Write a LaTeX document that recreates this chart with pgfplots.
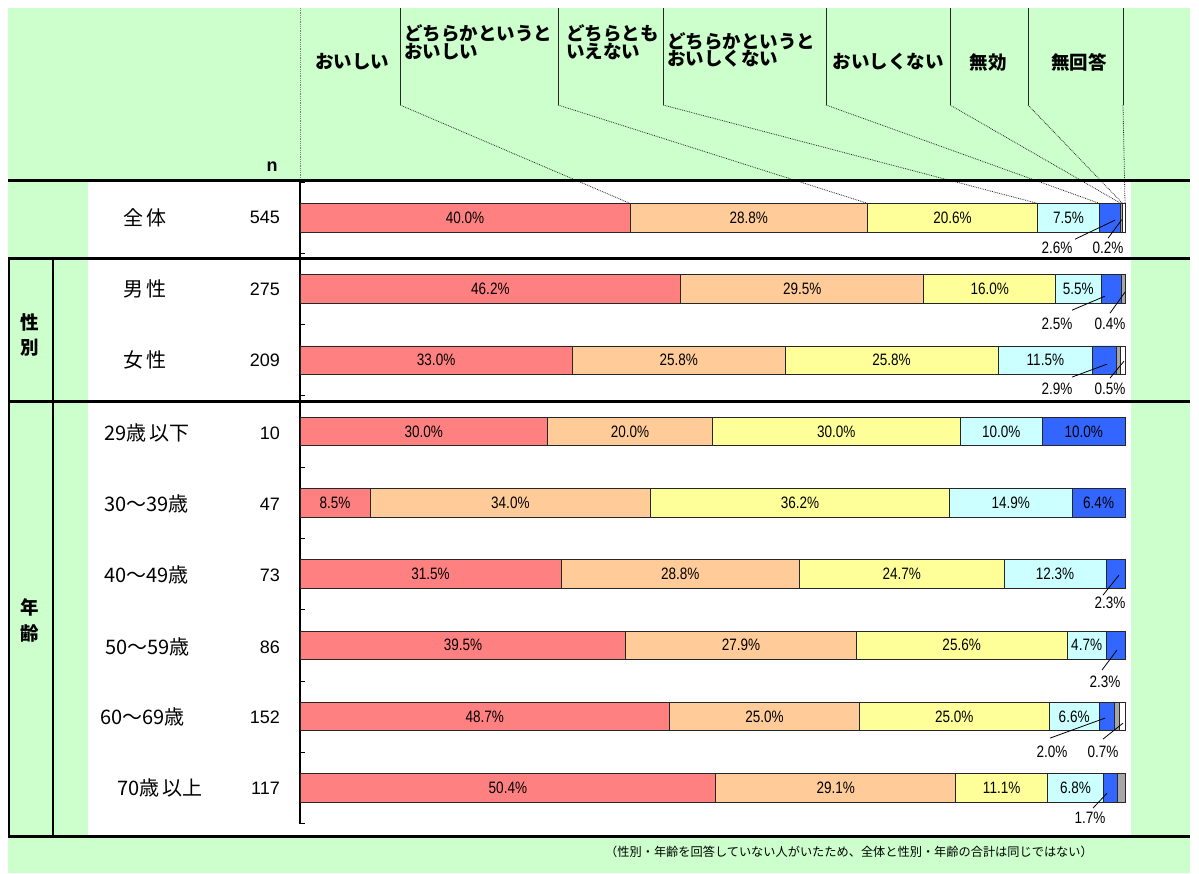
\documentclass[border=0pt]{standalone}
\usepackage{fontspec}
\usepackage{pgfplots}
\pgfplotsset{compat=1.18}
\setmainfont{Liberation Sans}
\newfontfamily\jp{Noto Sans CJK JP}
\newfontfamily\nar[FakeStretch=0.82]{Liberation Sans}
\definecolor{bg}{HTML}{CCFFCC}
\definecolor{cRed}{HTML}{FF8080}
\definecolor{cOra}{HTML}{FFCC99}
\definecolor{cYel}{HTML}{FFFF99}
\definecolor{cCya}{HTML}{CCFFFF}
\definecolor{cBlu}{HTML}{3366FF}
\definecolor{cGry}{HTML}{A6A6A6}
\begin{document}
\begin{tikzpicture}
\begin{scope}[x=1pt,y=-1pt]
\fill[white] (0,0) rectangle (1199,873);
\fill[bg] (8,8) rectangle (1190,873);
\fill[white] (88,180) rectangle (1131,836);
\end{scope}

\begin{axis}[at={(300pt,-182pt)}, anchor=north west, scale only axis,
  width=825pt, height=641.5pt, xmin=0, xmax=100, ymin=-0.5, ymax=8.5,
  y dir=reverse, xbar stacked, bar width=28.5pt,
  axis x line=none, axis y line*=left,
  axis line style={-, line width=2.2pt, black},
  ytick={-0.5,0.5,...,8.5}, yticklabels={}, tick align=inside,
  major tick length=5pt, tick style={line width=0.8pt, black}, clip=false]
\addplot[fill=cRed, draw=black!85, line width=0.8pt] coordinates {(40.0,0) (46.15,1) (33.0,2) (30,3) (8.5,4) (31.63,5) (39.5,6) (44.80,7) (50.4,8)};
\addplot[fill=cOra, draw=black!85, line width=0.8pt] coordinates {(28.8,0) (29.47,1) (25.8,2) (20,3) (34.0,4) (28.92,5) (27.9,6) (23.00,7) (29.1,8)};
\addplot[fill=cYel, draw=black!85, line width=0.8pt] coordinates {(20.6,0) (15.98,1) (25.8,2) (30,3) (36.2,4) (24.80,5) (25.6,6) (23.00,7) (11.1,8)};
\addplot[fill=cCya, draw=black!85, line width=0.8pt] coordinates {(7.5,0) (5.49,1) (11.5,2) (10,3) (14.9,4) (12.35,5) (4.7,6) (6.07,7) (6.8,8)};
\addplot[fill=cBlu, draw=black!85, line width=0.8pt] coordinates {(2.6,0) (2.50,1) (2.9,2) (10,3) (6.4,4) (2.30,5) (2.3,6) (1.84,7) (1.7,8)};
\addplot[fill=cGry, draw=black!85, line width=0.8pt] coordinates {(0.2,0) (0.40,1) (0.5,2) (0,3) (0,4) (0,5) (0,6) (0.64,7) (0.9,8)};
\addplot[fill=white, draw=black!85, line width=0.8pt] coordinates {(0.3,0) (0,1) (0.5,2) (0,3) (0,4) (0,5) (0,6) (0.64,7) (0,8)};
\end{axis}

\begin{axis}[at={(300pt,-182pt)}, anchor=north west, scale only axis,
  width=825pt, height=641.5pt, xmin=0, xmax=100, ymin=-0.5, ymax=8.5,
  y dir=reverse, hide axis, clip=false]
\addplot[draw=none, mark=none, point meta=explicit,
  nodes near coords={\pgfmathprintnumber[fixed,fixed zerofill,precision=1,assume math mode=true]{\pgfplotspointmeta}\%},
  every node near coord/.append style={anchor=center, inner sep=0pt, font=\nar\fontsize{16.5}{16.5}\selectfont}]
  table[x=x, y=y, meta=v] {
x y v
20 0 40.0
54.4 0 28.8
79.1 0 20.6
93.15 0 7.5
23.075 1 46.2
60.885 1 29.5
83.61 1 16.0
94.345 1 5.5
16.5 2 33.0
45.9 2 25.8
71.7 2 25.8
90.35 2 11.5
15 3 30.0
40 3 20.0
65 3 30.0
85 3 10.0
95 3 10.0
4.25 4 8.5
25.5 4 34.0
60.6 4 36.2
86.15 4 14.9
96.8 4 6.4
15.815 5 31.5
46.09 5 28.8
72.95 5 24.7
91.525 5 12.3
19.75 6 39.5
53.45 6 27.9
80.2 6 25.6
95.35 6 4.7
22.4 7 48.7
56.3 7 25.0
79.3 7 25.0
93.835 7 6.6
25.2 8 50.4
64.95 8 29.1
85.05 8 11.1
94.0 8 6.8
};
\addplot[draw=none, mark=none, point meta=explicit,
  nodes near coords={\pgfmathprintnumber[fixed,fixed zerofill,precision=1,assume math mode=true]{\pgfplotspointmeta}\%},
  every node near coord/.append style={anchor=center, inner sep=0pt, font=\nar\fontsize{16.5}{16.5}\selectfont}]
  table[x=x, y=y, meta=v] {
x y v
91.76 0.428 2.6
97.94 0.428 0.2
91.76 1.494 2.5
98.18 1.494 0.4
91.76 2.406 2.9
98.18 2.406 0.5
98.18 5.408 2.3
97.58 6.516 2.3
91.15 7.498 2.0
97.33 7.498 0.7
95.76 8.424 1.7
};
\draw[black, line width=0.8pt] (axis cs:93.94,0.302) -- (axis cs:98.79,0.035);
\draw[black, line width=0.8pt] (axis cs:97.94,0.288) -- (axis cs:99.6,0.03);
\draw[black, line width=0.8pt] (axis cs:93.58,1.298) -- (axis cs:97.58,1.101);
\draw[black, line width=0.8pt] (axis cs:98.18,1.340) -- (axis cs:100.0,1.045);
\draw[black, line width=0.8pt] (axis cs:93.58,2.237) -- (axis cs:97.82,2.055);
\draw[black, line width=0.8pt] (axis cs:98.18,2.251) -- (axis cs:99.88,2.013);
\draw[black, line width=0.8pt] (axis cs:97.33,5.296) -- (axis cs:99.27,5.015);
\draw[black, line width=0.8pt] (axis cs:97.21,6.347) -- (axis cs:99.03,6.066);
\draw[black, line width=0.8pt] (axis cs:90.91,7.302) -- (axis cs:97.58,7.021);
\draw[black, line width=0.8pt] (axis cs:97.33,7.316) -- (axis cs:99.76,7.092);
\draw[black, line width=0.8pt] (axis cs:96.12,8.284) -- (axis cs:97.82,8.074);
\coordinate (t1) at (axis cs:40.0,-0.2);
\coordinate (t2) at (axis cs:68.8,-0.2);
\coordinate (t3) at (axis cs:89.4,-0.2);
\coordinate (t4) at (axis cs:96.9,-0.2);
\coordinate (t5) at (axis cs:99.5,-0.2);
\coordinate (t6) at (axis cs:99.7,-0.2);
\coordinate (t7) at (axis cs:100,-0.2);
\end{axis}

\begin{scope}[x=1pt,y=-1pt]
% header
\draw[black!50, densely dotted, line width=0.8pt] (300,8) -- (300,182);
\foreach \xx in {400,558,663,826,950,1028,1123} \draw[black!85, line width=0.9pt] (\xx,8) -- (\xx,105);
\foreach \xx/\tt in {400/t1,558/t2,663/t3,826/t4,950/t5,1028/t6,1123/t7}
  \draw[black!85, densely dotted, line width=0.8pt] (\xx,105) -- (\tt);
\begin{scope}[every node/.style={inner sep=0pt, font=\jp\bfseries\fontsize{18.5}{20}\selectfont}]
\node at (352,62) {おいしい};
\node[anchor=west] at (404,33) {どちらかというと};
\node[anchor=west] at (404,52) {おいしい};
\node[anchor=west] at (566,33) {どちらとも};
\node[anchor=west] at (566,52) {いえない};
\node[anchor=west] at (667,41) {どちらかというと};
\node[anchor=west] at (667,59) {おいしくない};
\node at (888,62) {おいしくない};
\node at (988,62) {無効};
\node at (1079,62) {無回答};
\node at (30,322) {性};
\node at (30,348) {別};
\node at (30,607) {年};
\node at (30,633) {齢};
\end{scope}
\node[inner sep=0pt, font=\bfseries\fontsize{18}{20}\selectfont] at (272,167) {n};
% table lines
\draw[black, line width=3pt] (8,180) -- (1190,180);
\draw[black, line width=3pt] (8,258) -- (1190,258);
\draw[black, line width=3pt] (8,401) -- (1190,401);
\draw[black, line width=3pt] (8,836.5) -- (1190,836.5);
\draw[black, line width=2.5pt] (9.2,258) -- (9.2,836.5);
\draw[black, line width=2.5pt] (53,258) -- (53,836.5);
% row labels
\begin{scope}[every node/.style={inner sep=0pt, anchor=west, font=\jp\fontsize{20}{22}\selectfont}]
\node at (123,217.5) {全\,体};
\node at (123,289) {男\,性};
\node at (123,360) {女\,性};
\node at (104,433) {29歳\,以下};
\node at (104,504) {30～39歳};
\node at (104,575) {40～49歳};
\node at (105,647) {50～59歳};
\node at (100,717) {60～69歳};
\node at (117,788) {70歳\,以上};
\end{scope}
\begin{scope}[every node/.style={inner sep=0pt, anchor=east, font=\fontsize{18}{20}\selectfont}]
\node at (280,217.5) {545};
\node at (280,289) {275};
\node at (280,360) {209};
\node at (280,433) {10};
\node at (280,504) {47};
\node at (280,575) {73};
\node at (280,647) {86};
\node at (280,717) {152};
\node at (280,788) {117};
\end{scope}
\node[inner sep=0pt, anchor=west, font=\jp\fontsize{12.2}{14}\selectfont] at (605,852) {（性別・年齢を回答していない人がいたため、全体と性別・年齢の合計は同じではない）};
\end{scope}
\end{tikzpicture}
\end{document}
